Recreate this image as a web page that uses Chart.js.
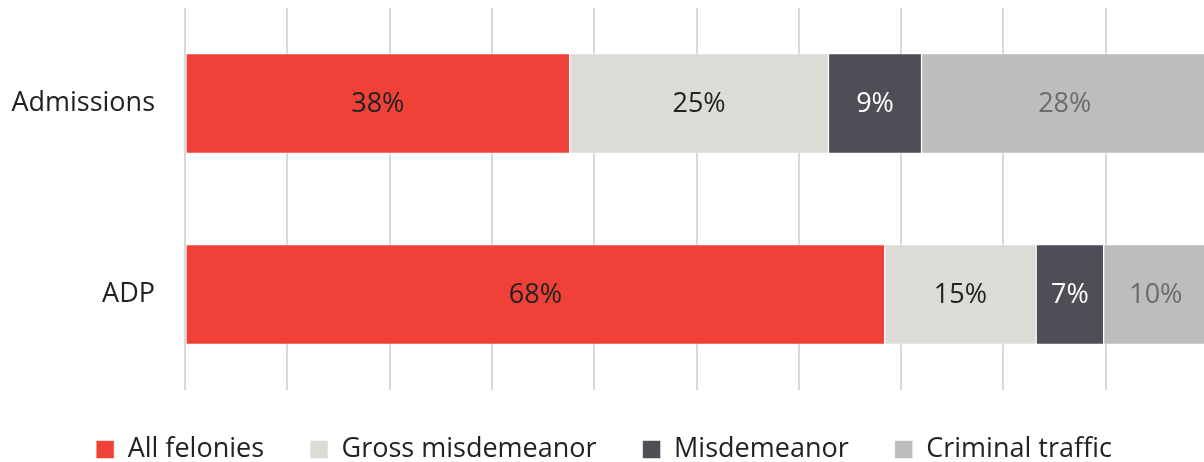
<!DOCTYPE html>
<html>
<head>
<meta charset="utf-8">
<script src="https://cdn.jsdelivr.net/npm/chart.js@4/dist/chart.umd.min.js"></script>
<style>
  html, body { margin: 0; padding: 0; background: #fff; overflow: hidden; }
  #wrap { width: 1208px; height: 462px; }
</style>
</head>
<body>
<div id="wrap"><canvas id="offenseChart"></canvas></div>
<script>
// DATA
var categories = ["Admissions", "ADP"];
var seriesNames = ["All felonies", "Gross misdemeanor", "Misdemeanor", "Criminal traffic"];
var allFelonies = [37.6, 68.4];
var grossMisdemeanor = [25.3, 14.8];
var misdemeanor = [9.1, 6.6];
var criminalTraffic = [28.0, 10.2];

// Colors
var $red = "#ef4138";
var $stone = "#dcdbd6";
var $slate = "#4d4e56";
var $gray = "#bdbdbd";

var fontFamily = "'Open Sans', 'Noto Sans', sans-serif";

// draw the % labels in the middle of each segment
var barLabels = {
  id: "barLabels",
  afterDatasetsDraw: function (chart) {
    var ctx = chart.ctx;
    ctx.save();
    ctx.font = "27px " + fontFamily;
    ctx.textAlign = "center";
    ctx.textBaseline = "middle";
    chart.data.datasets.forEach(function (ds, i) {
      var meta = chart.getDatasetMeta(i);
      meta.data.forEach(function (bar, j) {
        var p = bar.getProps(["x", "y", "base"], true);
        ctx.fillStyle = ds.labelColor;
        ctx.fillText(Math.round(ds.data[j]) + "%", (p.x + p.base) / 2, p.y + 1);
      });
    });
    ctx.restore();
  }
};

function makeSet(name, values, color, labelColor) {
  return {
    label: name,
    data: values,
    backgroundColor: color,
    borderColor: "rgba(255,255,255,0.55)",
    borderWidth: 1,
    borderSkipped: false,
    barThickness: 100,
    labelColor: labelColor
  };
}

var ctx = document.getElementById("offenseChart").getContext("2d");
var myBarChart = new Chart(ctx, {
  type: "bar",
  data: {
    labels: categories,
    datasets: [
      makeSet(seriesNames[0], allFelonies, $red, "#222222"),
      makeSet(seriesNames[1], grossMisdemeanor, $stone, "#222222"),
      makeSet(seriesNames[2], misdemeanor, $slate, "#ffffff"),
      makeSet(seriesNames[3], criminalTraffic, $gray, "#6b6b6b")
    ]
  },
  options: {
    indexAxis: "y",
    responsive: true,
    maintainAspectRatio: false,
    animation: false,
    layout: { padding: { top: 8, left: 0, right: 0, bottom: 0 } },
    scales: {
      x: {
        stacked: true,
        min: 0,
        max: 100,
        ticks: { display: false, stepSize: 10 },
        border: { display: false },
        grid: { color: "#d9d9d9", lineWidth: 2, drawTicks: false }
      },
      y: {
        stacked: true,
        border: { display: false },
        grid: { display: false },
        ticks: {
          color: "#222222",
          padding: 22,
          font: { family: fontFamily, size: 27 }
        },
        afterFit: function (scale) {
          // keep the label padding from pushing the plot down
          scale.paddingTop = 0;
          scale.paddingBottom = 0;
          scale.width = 185;
        }
      }
    },
    plugins: {
      tooltip: { enabled: false },
      legend: {
        position: "bottom",
        maxHeight: 72,
        labels: {
          color: "#222222",
          boxWidth: 18,
          boxHeight: 18,
          padding: 46,
          font: { family: fontFamily, size: 27 }
        }
      }
    }
  },
  plugins: [barLabels]
});
</script>
</body>
</html>
